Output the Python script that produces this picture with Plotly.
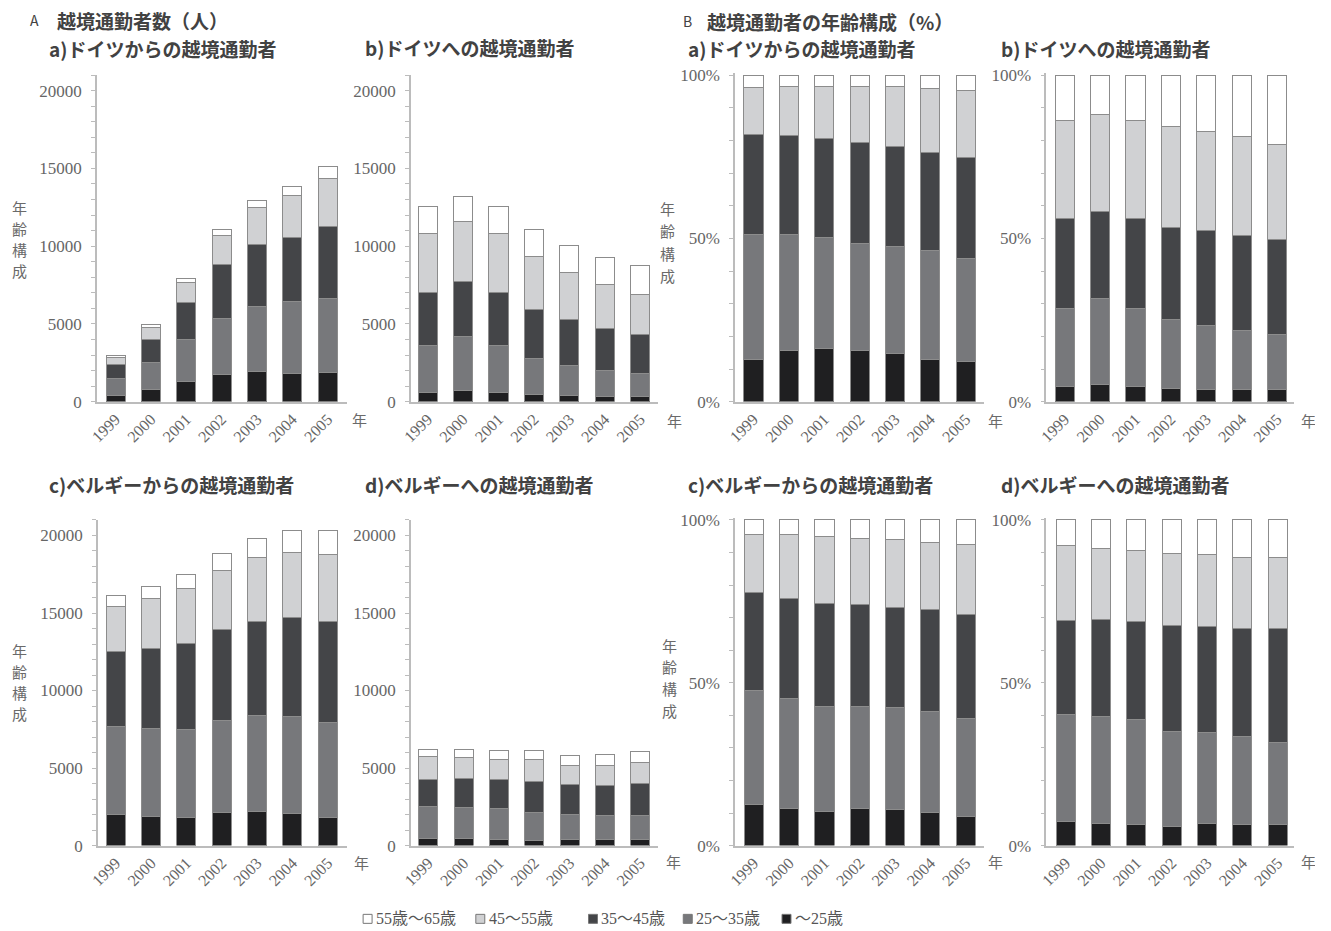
import plotly.graph_objects as go

# Page geometry: the body keeps an 8px default margin; the captured page is
# shown slightly compressed, so positions are laid out in screen pixels and
# converted to figure pixels below.
BODY_MARGIN = 8
PAGE_W, PAGE_H = 1331, 948
SHOWN_H = 931
SHOWN_X_SCALE = 0.995
W, H = PAGE_W - 2 * BODY_MARGIN, PAGE_H - 2 * BODY_MARGIN

YEARS = ["1999", "2000", "2001", "2002", "2003", "2004", "2005"]
AGE_GROUPS = ["～25歳", "25～35歳", "35～45歳", "45～55歳", "55歳～65歳"]
AGE_COLORS = ["#1f1f21", "#77787b", "#444548", "#d0d1d3", "#ffffff"]

# Commuters (persons) by age group, stacked from youngest (bottom) to oldest (top)
# a) commuters from Germany
from_de_u25 = [380, 770, 1300, 1740, 1920, 1810, 1860]
from_de_25_35 = [1130, 1770, 2690, 3630, 4220, 4610, 4760]
from_de_35_45 = [900, 1490, 2420, 3450, 3980, 4140, 4670]
from_de_45_55 = [430, 750, 1260, 1890, 2380, 2720, 3090]
from_de_55_65 = [110, 170, 280, 390, 450, 570, 720]

# b) commuters to Germany
to_de_u25 = [580, 700, 570, 460, 390, 360, 340]
to_de_25_35 = [3020, 3490, 3030, 2350, 1970, 1660, 1450]
to_de_35_45 = [3440, 3510, 3440, 3120, 2900, 2700, 2550]
to_de_45_55 = [3750, 3920, 3750, 3420, 3050, 2830, 2560]
to_de_55_65 = [1760, 1580, 1760, 1750, 1740, 1750, 1850]

# c) commuters from Belgium
from_be_u25 = [2020, 1890, 1840, 2130, 2200, 2070, 1810]
from_be_25_35 = [5670, 5660, 5650, 5940, 6220, 6270, 6110]
from_be_35_45 = [4840, 5140, 5530, 5880, 6040, 6350, 6550]
from_be_45_55 = [2920, 3260, 3590, 3810, 4150, 4210, 4330]
from_be_55_65 = [700, 750, 890, 1090, 1190, 1400, 1550]

# d) commuters to Belgium
to_be_u25 = [450, 430, 390, 360, 390, 370, 390]
to_be_25_35 = [2040, 2030, 1990, 1800, 1620, 1590, 1530]
to_be_35_45 = [1800, 1850, 1850, 2000, 1900, 1940, 2110]
to_be_45_55 = [1430, 1350, 1350, 1360, 1270, 1280, 1330]
to_be_55_65 = [480, 540, 570, 630, 620, 670, 690]

GROUPS = {
    "a": [from_de_u25, from_de_25_35, from_de_35_45, from_de_45_55, from_de_55_65],
    "b": [to_de_u25, to_de_25_35, to_de_35_45, to_de_45_55, to_de_55_65],
    "c": [from_be_u25, from_be_25_35, from_be_35_45, from_be_45_55, from_be_55_65],
    "d": [to_be_u25, to_be_25_35, to_be_35_45, to_be_45_55, to_be_55_65],
}


def shares(series):
    """Age composition in percent of each year's total."""
    totals = [sum(v) for v in zip(*series)]
    return [[100.0 * x / t for x, t in zip(s, totals)] for s in series]


def px_x(x):
    """Screen column -> paper fraction."""
    page_x = x / SHOWN_X_SCALE
    return (page_x - BODY_MARGIN) / W


def px_y(y):
    """Screen row -> paper fraction."""
    page_y = y * PAGE_H / SHOWN_H
    return 1 - (page_y - BODY_MARGIN) / H


# panel -> (group, percent?, x pixel span, x range, y pixel span)
ROW1 = (76, 402.7)
ROW2 = (521, 846.7)
PANELS = [
    ("a", False, (95, 346), (-0.53, 6.55), ROW1),
    ("b", False, (410, 658), (-0.47, 6.51), ROW1),
    ("a", True, (735, 985), (-0.52, 6.53), ROW1),
    ("b", True, (1047, 1295), (-0.52, 6.47), ROW1),
    ("c", False, (96, 346), (-0.51, 6.55), ROW2),
    ("d", False, (410, 658), (-0.49, 6.51), ROW2),
    ("c", True, (735, 985), (-0.53, 6.53), ROW2),
    ("d", True, (1047, 1295), (-0.55, 6.45), ROW2),
]
PCT_HEADROOM_PX = 2  # keeps the outline of the 100% bar tops inside the plot area

AXIS_GRAY = "#bcbcbc"
YTICK_FONT = dict(family="Liberation Serif, Noto Sans CJK JP", size=17, color="#666666")
XTICK_FONT = dict(family="Liberation Serif, Noto Sans CJK JP", size=16, color="#666666")
JP_FONT = "Noto Sans CJK JP"

fig = go.Figure()
layout = {}

for i, (grp, pct, xspan, xrng, yspan) in enumerate(PANELS, start=1):
    sfx = "" if i == 1 else str(i)
    series = shares(GROUPS[grp]) if pct else GROUPS[grp]
    for name, color, vals in zip(AGE_GROUPS, AGE_COLORS, series):
        fig.add_trace(go.Bar(
            x=YEARS, y=vals, name=name, showlegend=False, cliponaxis=False,
            marker=dict(color=color, line=dict(color="#8c8c8c", width=1)),
            xaxis="x" + sfx, yaxis="y" + sfx,
        ))
    layout["xaxis" + sfx] = dict(
        domain=[px_x(xspan[0]), px_x(xspan[1])],
        anchor="y" + sfx, type="category", range=list(xrng),
        showline=True, linecolor=AXIS_GRAY, linewidth=2,
        showgrid=False, zeroline=False, ticks="",
        tickangle=-45, tickfont=XTICK_FONT, fixedrange=True,
    )
    top, bottom = yspan
    if pct:
        new_top = top - PCT_HEADROOM_PX
        ymax = 100 * (bottom - new_top) / (bottom - top)
        top = new_top
        yax = dict(range=[0, ymax], tickvals=[0, 50, 100],
                   ticktext=["0%", "50%", "100%"],
                   minor=dict(tickvals=[10, 20, 30, 40, 60, 70, 80, 90],
                              ticks="outside", ticklen=4,
                              tickcolor=AXIS_GRAY, tickwidth=1))
    else:
        yax = dict(range=[0, 21000], tickvals=[0, 5000, 10000, 15000, 20000],
                   ticktext=["0", "5000", "10000", "15000", "20000"],
                   minor=dict(dtick=1000, ticks="outside", ticklen=4,
                              tickcolor=AXIS_GRAY, tickwidth=1))
    yax.update(
        domain=[px_y(bottom), px_y(top)], anchor="x" + sfx,
        showline=True, linecolor=AXIS_GRAY, linewidth=1.5,
        showgrid=False, zeroline=False, ticks="outside", ticklen=4,
        tickcolor=AXIS_GRAY, tickfont=YTICK_FONT, ticklabelstandoff=6,
        fixedrange=True,
    )
    layout["yaxis" + sfx] = yax

annotations = []


def text(x, y, s, size=19, color="#424242", anchor="left", family=JP_FONT, bold=True):
    annotations.append(dict(
        x=px_x(x), y=px_y(y), xref="paper", yref="paper",
        text=(f"<b>{s}</b>" if bold else s),
        showarrow=False, xanchor=anchor, yanchor="middle",
        font=dict(family=family, size=size, color=color),
    ))


# section headings
text(26, 21, "A", size=14, bold=False)
text(53, 21, "越境通勤者数（人）")
text(681, 22, "B", size=14, bold=False)
text(705, 22, "越境通勤者の年齢構成（%）")

# panel titles
text(45, 49, "a)ドイツからの越境通勤者")
text(362, 48, "b)ドイツへの越境通勤者")
text(686, 49, "a)ドイツからの越境通勤者")
text(1000, 49, "b)ドイツへの越境通勤者")
text(45, 486, "c)ベルギーからの越境通勤者")
text(362, 486, "d)ベルギーへの越境通勤者")
text(686, 486, "c)ベルギーからの越境通勤者")
text(1000, 486, "d)ベルギーへの越境通勤者")

# vertical y-axis captions, one character per line
Y_CAPTION = "年齢構成"
for x, rows in [(17, (208, 229, 250, 271)), (667, (209, 231, 254, 276)),
                (17, (652, 673, 694, 715)), (669, (647, 668, 690, 712))]:
    for ch, y in zip(Y_CAPTION, rows):
        text(x, y, ch, size=15, color="#6a6a6a", anchor="center", bold=False)

# x-axis captions
for (x, y) in [(358, 420), (674, 421), (996, 421), (1310, 421),
               (360, 864), (673, 863), (996, 863), (1310, 863)]:
    text(x, y, "年", size=15, color="#6a6a6a", anchor="center", bold=False)

# legend (oldest group first)
shapes = []
legend_x = [362, 475, 588, 683, 782]
for lx, name, color in zip(legend_x, AGE_GROUPS[::-1], AGE_COLORS[::-1]):
    shapes.append(dict(
        type="rect", xref="paper", yref="paper",
        x0=px_x(lx), x1=px_x(lx + 9), y0=px_y(924.5), y1=px_y(915.5),
        fillcolor=color, line=dict(color="#777777", width=1),
    ))
    text(lx + 11, 920, name, size=16, color="#555555",
         family="Liberation Serif, Noto Sans CJK JP", bold=False)

layout.update(
    width=W, height=H, margin=dict(l=0, r=0, t=0, b=0),
    paper_bgcolor="white", plot_bgcolor="white",
    barmode="stack", bargap=0.46, showlegend=False,
    annotations=annotations, shapes=shapes,
)
fig.update_layout(**layout)
fig.write_html("out.html")
